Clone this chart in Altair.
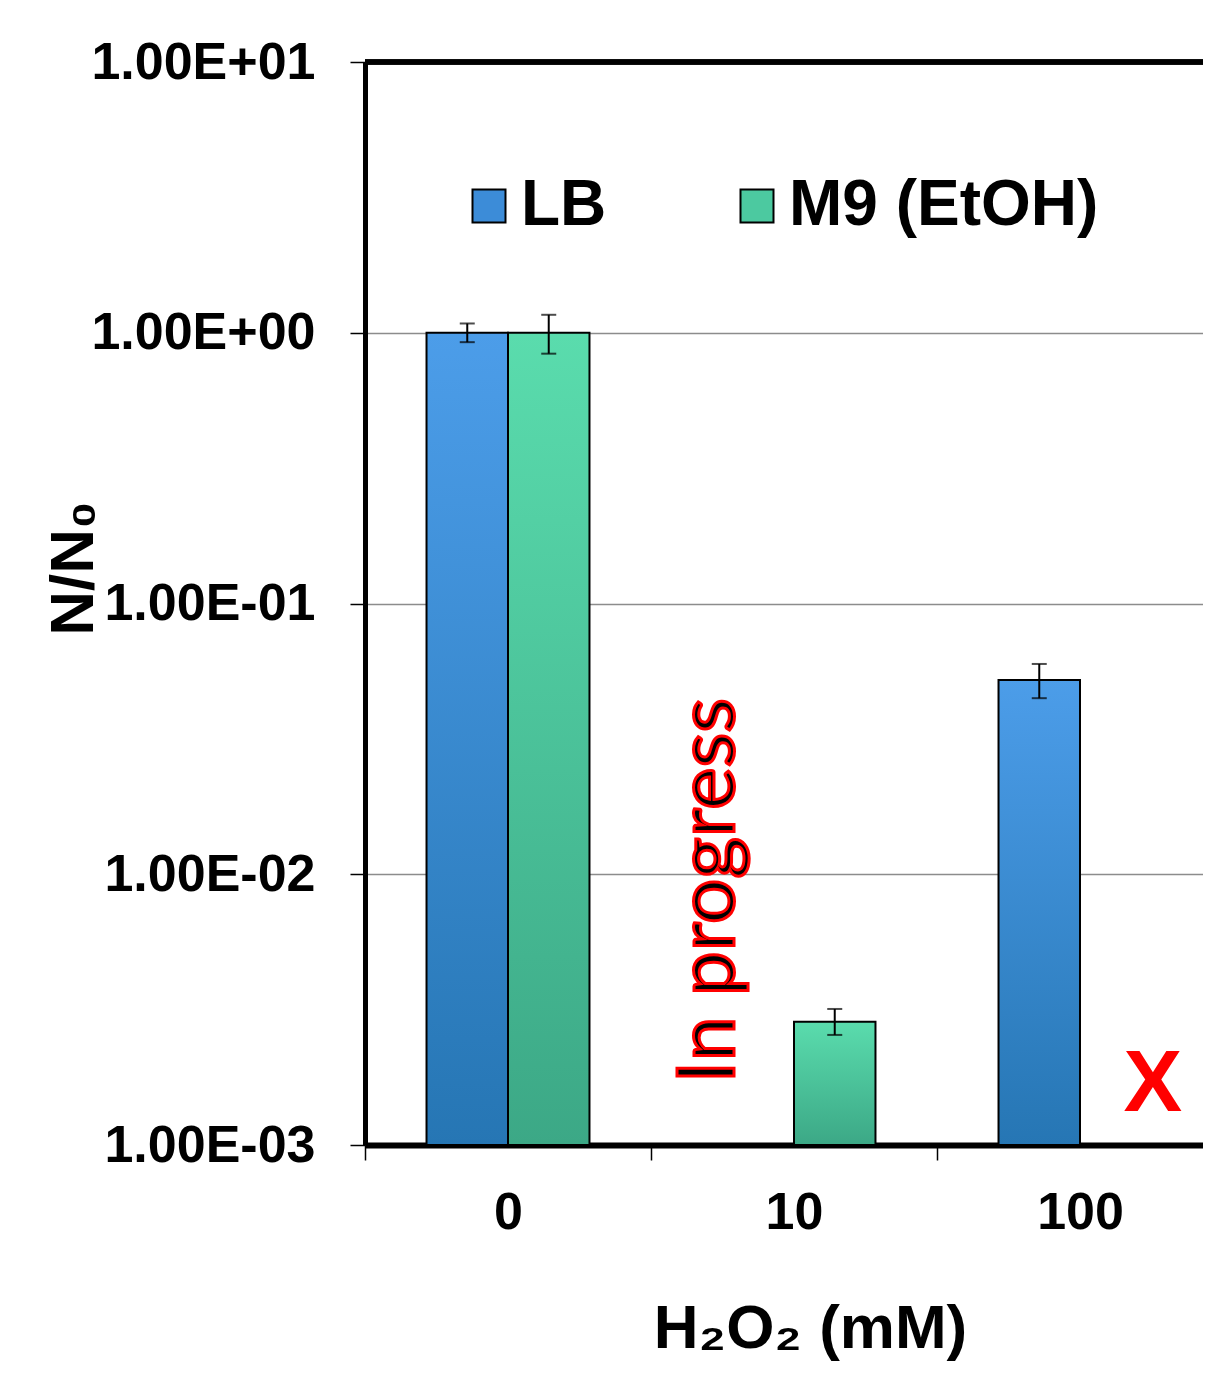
import altair as alt
import pandas as pd

# ---- data ----
doses = ["0", "10", "100"]
series = ["LB", "M9 (EtOH)"]

lb_values = [1.0, None, 0.0522]
lb_err_low = [0.923, None, 0.0447]
lb_err_high = [1.082, None, 0.0598]

m9_values = [1.0, 0.00285, None]
m9_err_low = [0.837, 0.00255, None]
m9_err_high = [1.165, 0.00318, None]

y_min, y_max = 0.001, 10
y_ticks = [0.001, 0.01, 0.1, 1, 10]
y_tick_labels = ["1.00E-03", "1.00E-02", "1.00E-01", "1.00E+00", "1.00E+01"]

note_text = ["In progress"]
note_dose = ["10"]
note_series = ["LB"]
note_y = [0.0087]

cross_text = ["X"]
cross_dose = ["100"]
cross_series = ["M9 (EtOH)"]
cross_y = [0.00134]

# ---- tables ----
rows = []
for s, vals, lo, hi in [("LB", lb_values, lb_err_low, lb_err_high),
                        ("M9 (EtOH)", m9_values, m9_err_low, m9_err_high)]:
    for d, v, l, h in zip(doses, vals, lo, hi):
        if v is not None:
            rows.append({"dose": d, "series": s, "value": v, "base": y_min, "lo": l, "hi": h})
df = pd.DataFrame(rows)
df_note = pd.DataFrame({"text": note_text, "dose": note_dose, "series": note_series, "y": note_y})
df_cross = pd.DataFrame({"text": cross_text, "dose": cross_dose, "series": cross_series, "y": cross_y})

FONT = "Liberation Sans"
BLUE_TOP, BLUE_BOT = "#4c9de9", "#2676b4"
GREEN_TOP, GREEN_BOT = "#5adcad", "#3ca886"

label_expr = "[" + ",".join("'%s'" % t for t in y_tick_labels) + "][round(log(datum.value)/LN10)+3]"

x_enc = alt.X(
    "dose:N",
    sort=doses,
    scale=alt.Scale(domain=doses, range=[0, 858], paddingInner=0, paddingOuter=0),
    axis=alt.Axis(
        title="H₂O₂ (mM)",
        labelAngle=0,
        labelFont=FONT, labelFontSize=52, labelFontWeight="bold", labelColor="black",
        labelBaseline="alphabetic", labelPadding=68,
        tickBand="extent", tickSize=15, tickWidth=1.5, tickColor="black",
        domainWidth=6, domainColor="black",
        grid=False,
        titleFont=FONT, titleFontSize=62, titleFontWeight="bold", titleColor="black",
        titleX=445, titleY=202, titleBaseline="alphabetic",
    ),
)
xoff_enc = alt.XOffset(
    "series:N", sort=series,
    scale=alt.Scale(domain=series, paddingInner=0, paddingOuter=0.755),
)
y_scale = alt.Scale(type="log", domain=[y_min, y_max])
y_enc = alt.Y(
    "value:Q",
    scale=y_scale,
    stack=None,
    axis=alt.Axis(
        values=y_ticks, labelExpr=label_expr,
        labelFont=FONT, labelFontSize=52, labelFontWeight="bold", labelColor="black",
        labelPadding=35, labelOverlap=False, labelLimit=500,
        tickSize=15, tickWidth=1.5, tickColor="black",
        domainWidth=5, domainColor="black",
        grid=True, gridColor="#8c8c8c", gridWidth=1.5,
        title="N/N₀",
        titleFont=FONT, titleFontSize=62, titleFontWeight="bold", titleColor="black",
        titleX=-260, titleY=506,
    ),
)
y2_enc = alt.Y2("base:Q")

base = alt.Chart(df)

legend_bars = base.mark_bar().encode(
    x=x_enc, xOffset=xoff_enc, y=y_enc, y2=y2_enc,
    color=alt.Color(
        "series:N",
        scale=alt.Scale(domain=series, range=["#3c8cd8", "#4cc9a0"]),
        legend=alt.Legend(
            orient="none", legendX=92, legendY=112, direction="horizontal",
            title=None, padding=0,
            symbolType="square", symbolSize=1089,
            symbolStrokeColor="black", symbolStrokeWidth=2, symbolOpacity=1,
            labelFont=FONT, labelFontSize=64, labelFontWeight="bold", labelColor="black",
            labelOffset=0, labelLimit=500, columnPadding=118,
        ),
    ),
)


def grad(top, bot):
    return alt.Gradient(
        gradient="linear", x1=0, y1=0, x2=0, y2=1,
        stops=[alt.GradientStop(color=top, offset=0), alt.GradientStop(color=bot, offset=1)],
    )


lb_bars = base.transform_filter(alt.datum.series == "LB").mark_bar(
    fill=grad(BLUE_TOP, BLUE_BOT), stroke="black", strokeWidth=2
).encode(x=x_enc, xOffset=xoff_enc, y=y_enc, y2=y2_enc)

m9_bars = base.transform_filter(alt.datum.series == "M9 (EtOH)").mark_bar(
    fill=grad(GREEN_TOP, GREEN_BOT), stroke="black", strokeWidth=2
).encode(x=x_enc, xOffset=xoff_enc, y=y_enc, y2=y2_enc)

err_rule = base.mark_rule(color="black", strokeWidth=2).encode(
    x=x_enc, xOffset=xoff_enc, y=alt.Y("lo:Q", scale=y_scale), y2="hi:Q"
)
cap_lo = base.mark_tick(color="black", thickness=2, size=15).encode(
    x=x_enc, xOffset=xoff_enc, y=alt.Y("lo:Q", scale=y_scale)
)
cap_hi = base.mark_tick(color="black", thickness=2, size=15).encode(
    x=x_enc, xOffset=xoff_enc, y=alt.Y("hi:Q", scale=y_scale)
)

top_rule = alt.Chart(df).mark_rule(color="black", strokeWidth=5).encode(
    y=alt.datum(y_max), x=alt.value(0), x2=alt.value(858)
)

note = alt.Chart(df_note).mark_text(
    angle=270, font="Lato", fontSize=80, color="black", stroke="#ff0000", strokeWidth=3,
    align="center", baseline="alphabetic", dy=-19,
).encode(x=x_enc, xOffset=xoff_enc, y=alt.Y("y:Q", scale=y_scale), text="text:N")

cross = alt.Chart(df_cross).mark_text(
    font=FONT, fontWeight="bold", fontSize=88, color="#ff0000",
    align="center", baseline="alphabetic", dx=32,
).encode(x=x_enc, xOffset=xoff_enc, y=alt.Y("y:Q", scale=y_scale), text="text:N")

chart = alt.layer(
    legend_bars, lb_bars, m9_bars, err_rule, cap_lo, cap_hi, top_rule, note, cross
).properties(
    width=838, height=1083,
    autosize=alt.AutoSizeParams(type="none"),
    padding={"left": 357, "top": 54, "right": 0, "bottom": 218},
).configure_view(stroke=None).configure(font=FONT)

chart.save("out.html", embed_options={"renderer": "svg", "actions": False})
